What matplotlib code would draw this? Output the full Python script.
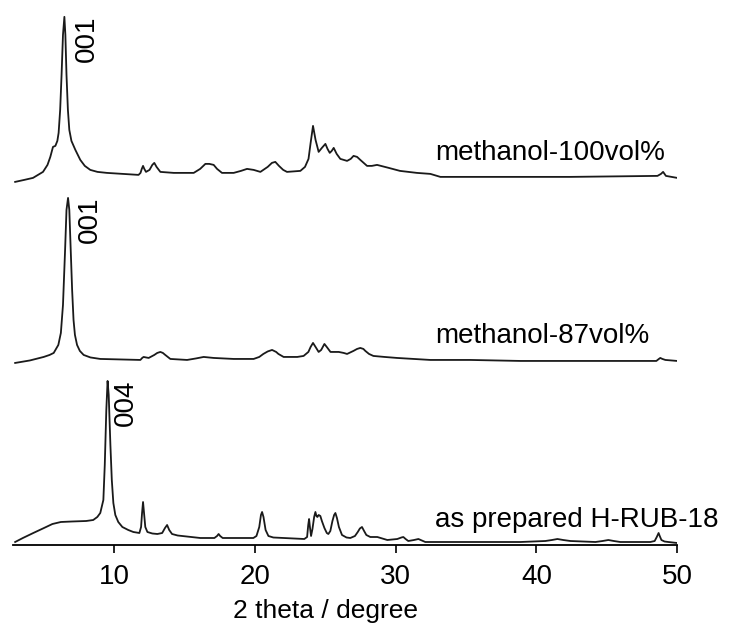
import matplotlib
matplotlib.use("Agg")
import matplotlib.pyplot as plt

plt.rcParams['font.family'] = ['Liberation Sans', 'DejaVu Sans']

# as prepared H-RUB-18 (2 theta in degree, intensity in a.u.)
rub18_theta = [2.95, 3.5, 4.24, 5.0, 5.6, 6.2, 7.0, 8.0, 8.5, 8.79, 9.0, 9.22, 9.32, 9.43,
               9.52, 9.6, 9.72, 9.82, 9.93, 10.07, 10.28, 10.57, 10.99, 11.35, 11.78,
               11.9, 11.97, 12.04, 12.11, 12.2, 12.35, 12.7, 13.06, 13.4, 13.6, 13.75,
               13.9, 14.1, 14.5, 16.11, 17.11, 17.3, 17.41, 17.52, 17.7, 19.88, 20.1,
               20.3, 20.42, 20.5, 20.6, 20.75, 20.95, 21.3, 23.5, 23.7, 23.78, 23.84,
               23.9, 23.98, 24.08, 24.2, 24.29, 24.36, 24.43, 24.52, 24.64, 24.75,
               24.93, 25.1, 25.21, 25.35, 25.5, 25.62, 25.71, 25.82, 25.96, 26.18,
               26.5, 26.77, 27.1, 27.3, 27.45, 27.6, 27.75, 27.91, 28.19, 28.69, 29.4,
               30.11, 30.4, 30.54, 30.7, 30.89, 31.3, 31.61, 32.1, 33.17, 36.01, 38.86,
               40.63, 41.1, 41.49, 41.9, 42.41, 44.19, 44.7, 45.11, 45.5, 45.96, 48.09,
               48.4, 48.55, 48.68, 48.76, 48.88, 49.1, 49.37, 50.0]
rub18_int = [3, 7, 12, 17, 21, 23, 23.5, 24, 25, 28, 32, 45, 80, 135,
             164, 150, 100, 65, 42, 30, 23, 18, 15, 13, 12,
             18, 32, 43, 32, 18, 13, 11.5, 11, 12, 17, 20,
             15, 11, 9.5, 7, 7, 9, 11, 9, 7, 7, 9,
             18, 30, 33, 28, 15, 9, 7.5, 6, 8, 20, 26,
             18, 9, 16, 28, 33, 29, 28, 30, 29, 24,
             17, 12, 11, 14, 24, 30, 32, 27, 18, 10,
             7.5, 7, 9, 13, 16.5, 18, 14, 10, 8, 8, 5,
             6, 7.5, 8, 6, 4, 5, 6, 3, 3, 3, 3,
             4, 5, 6, 5, 4, 3, 4, 5, 4, 3, 3,
             4, 8, 12, 9, 5, 3.5, 3, 2]

# methanol-87vol%
meoh87_theta = [2.95, 4.0, 4.98, 5.4, 5.69, 6.02, 6.2, 6.35, 6.5, 6.6, 6.71, 6.8, 6.9,
                7.0, 7.1, 7.2, 7.35, 7.55, 7.82, 8.3, 9.0, 11.85, 11.98, 12.08, 12.25,
                12.44, 12.84, 13.05, 13.27, 13.45, 13.62, 13.98, 15.17, 15.8, 16.35,
                17.06, 18.48, 19.9, 20.3, 20.59, 20.9, 21.21, 21.5, 21.66, 22.03, 23.0,
                23.45, 23.79, 23.95, 24.12, 24.3, 24.52, 24.7, 24.93, 25.15, 25.36,
                25.95, 26.3, 26.54, 26.99, 27.25, 27.48, 27.7, 27.84, 28.1, 28.41, 29.2,
                30.09, 32.46, 35.3, 38.86, 42.41, 45.96, 48.52, 48.7, 48.8, 48.95, 49.16,
                50.0]
meoh87_int = [2, 4.5, 8, 10, 12, 20, 32, 60, 115, 155, 167, 155, 115,
              75, 45, 30, 20, 14, 10, 7.5, 6, 5, 7, 8, 7.5,
              7, 10, 12, 13, 12, 10, 6, 5, 6.5, 8,
              7, 6, 6, 8, 11, 13.5, 15, 13, 11, 8, 8,
              9, 13, 18, 22, 18, 13, 15, 21, 17, 13,
              13, 12, 11, 14, 16, 17, 16, 14, 11, 9, 8,
              7, 5, 5, 4, 4, 4, 4, 6, 7, 6, 5,
              4]

# methanol-100vol%
meoh100_theta = [2.95, 3.6, 4.22, 4.93, 5.25, 5.45, 5.64, 5.81, 5.95, 6.04, 6.15, 6.25,
                 6.35, 6.45, 6.52, 6.6, 6.7, 6.8, 6.95, 7.23, 7.58, 7.9, 8.29, 8.8,
                 9.47, 11.72, 11.86, 11.95, 12.04, 12.13, 12.25, 12.5, 12.7, 12.84,
                 13.0, 13.27, 14.22, 15.64, 16.1, 16.47, 16.75, 17.06, 17.3, 17.65,
                 18.48, 19.0, 19.43, 19.9, 20.38, 20.9, 21.2, 21.44, 21.7, 22.0, 22.27,
                 23.22, 23.55, 23.8, 23.95, 24.12, 24.3, 24.52, 24.75, 25.0, 25.15,
                 25.31, 25.45, 25.59, 25.8, 26.06, 26.54, 26.8, 27.0, 27.25, 27.48,
                 27.96, 28.3, 28.67, 29.5, 30.3, 31.5, 32.46, 33.17, 36.5, 42.4, 48.6,
                 48.85, 49.0, 49.2, 50.0]
meoh100_int = [3, 5, 7, 13, 20, 28, 38, 39, 44, 52, 75, 110,
               150, 168, 150, 110, 75, 55, 44, 35, 25, 19, 15, 13,
               12, 10, 12, 16, 19, 16, 13, 15, 20, 22,
               18, 13, 12, 12, 16, 21, 21, 20, 16, 12,
               12, 14, 16, 15, 13, 18, 22, 23, 19, 15, 13,
               14, 18, 26, 42, 59, 45, 33, 37, 41, 36,
               32, 34, 37, 31, 26, 24, 26, 29, 28, 25,
               19, 19, 20, 17, 14, 12, 11, 8, 8, 8, 9,
               11, 13, 9, 7]

names = ["as prepared H-RUB-18", "methanol-87vol%", "methanol-100vol%"]
reflections = ["004", "001", "001"]


def draw_pattern(ax, theta, intensity, shift, name, name_y, peak_label, label_x):
    ax.plot(theta, [v + shift for v in intensity], color="#1a1a1a", lw=1.3)
    ax.text(32.8, shift + name_y, name, fontsize=20, va="baseline", ha="left")
    ax.text(label_x, shift + max(intensity) + 1, peak_label, fontsize=20,
            rotation=90, va="top", ha="left")


if __name__ == '__main__':
    fig = plt.figure(figsize=(7.53, 6.23), dpi=100)
    ax = fig.add_axes([0.0173, 0.1252, 0.882, 0.859])

    draw_pattern(ax, rub18_theta, rub18_int, 0, names[0], 18, reflections[0], 9.93)
    draw_pattern(ax, meoh87_theta, meoh87_int, 180, names[1], 22, reflections[1], 7.37)
    draw_pattern(ax, meoh100_theta, meoh100_int, 360, names[2], 25, reflections[2], 7.09)

    ax.set_xlim(2.8, 50)
    ax.set_ylim(0, 535)
    ax.set_xticks([10, 20, 30, 40, 50])
    ax.set_yticks([])
    for side in ["top", "left", "right"]:
        ax.spines[side].set_visible(False)
    ax.spines["bottom"].set_linewidth(1.3)
    ax.tick_params(axis="x", direction="out", length=6, width=1.2, pad=8, labelsize=20)
    ax.set_xlabel("2 theta / degree", fontsize=19)
    ax.xaxis.set_label_coords(0.47, -0.1)

    plt.savefig("out.png", dpi=100)
